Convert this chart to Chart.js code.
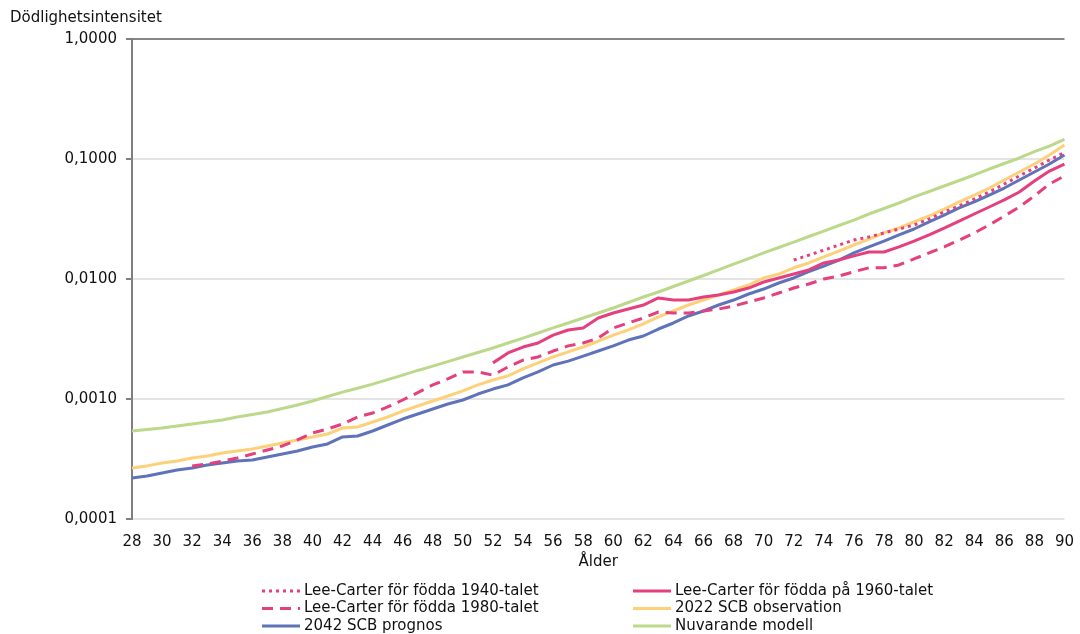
<!DOCTYPE html>
<html lang="sv">
<head>
<meta charset="utf-8">
<title>Dödlighetsintensitet per ålder</title>
<script src="https://cdn.jsdelivr.net/npm/chart.js@4.4.1/dist/chart.umd.min.js"></script>
<style>
  html, body { margin: 0; padding: 0; background: #ffffff; }
  #wrap { width: 1080px; height: 634px; position: relative; }
</style>
</head>
<body>
<div id="wrap"><canvas id="chart" width="1080" height="634"></canvas></div>
<script>
// Ålder 28–90
const ages = [];
for (let a = 28; a <= 90; a++) ages.push(String(a));

// Y-axelns steg (logaritmisk skala)
const yTicks = [0.0001, 0.001, 0.01, 0.1, 1];

// Lee-Carter för födda 1940-talet, från 72 år
const lc1940Start = 72;
const lc1940 = [0.0144, 0.0158, 0.0174, 0.0192, 0.0211, 0.0224, 0.0242, 0.0261, 0.0282, 0.0316,
  0.0362, 0.0406, 0.0464, 0.0531, 0.0619, 0.0722, 0.0841, 0.0981, 0.113];

// Lee-Carter för födda på 1960-talet, från 52 år
const lc1960Start = 52;
const lc1960 = [0.00200, 0.00242, 0.00271, 0.00293, 0.00341, 0.00376, 0.00391, 0.00473, 0.00521, 0.00562,
  0.00607, 0.00695, 0.00668, 0.00668, 0.00708, 0.00736, 0.00779, 0.00841, 0.00944, 0.0102,
  0.0110, 0.0119, 0.0136, 0.0144, 0.0156, 0.0168, 0.0168, 0.0185, 0.0207, 0.0233,
  0.0266, 0.0304, 0.0348, 0.0398, 0.0456, 0.0531, 0.0656, 0.0794, 0.0908];

// Lee-Carter för födda 1980-talet, från 32 år
const lc1980Start = 32;
const lc1980 = [0.000277, 0.000287, 0.000304, 0.000322, 0.000348, 0.000376, 0.000406, 0.000456, 0.000521, 0.000562,
  0.000619, 0.000708, 0.000764, 0.000858, 0.000981, 0.00113, 0.00131, 0.00147, 0.00168, 0.00168,
  0.00158, 0.00185, 0.00211, 0.00224, 0.00251, 0.00277, 0.00293, 0.00322, 0.00391, 0.00430,
  0.00473, 0.00531, 0.00521, 0.00521, 0.00541, 0.00562, 0.00596, 0.00643, 0.00695, 0.00764,
  0.00841, 0.00908, 0.0100, 0.0106, 0.0115, 0.0124, 0.0124, 0.0131, 0.0147, 0.0165,
  0.0185, 0.0211, 0.0242, 0.0282, 0.0335, 0.0398, 0.0492, 0.0619, 0.0722];

// 2022 SCB observation, 28–90 år
const scbObs2022 = [0.000266, 0.000277, 0.000293, 0.000304, 0.000322, 0.000335, 0.000355, 0.000369, 0.000383, 0.000406,
  0.000430, 0.000456, 0.000483, 0.000511, 0.000573, 0.000584, 0.000643, 0.000708, 0.000794, 0.000874,
  0.000962, 0.00106, 0.00117, 0.00131, 0.00144, 0.00156, 0.00178, 0.00200, 0.00224, 0.00247,
  0.00271, 0.00304, 0.00341, 0.00376, 0.00422, 0.00483, 0.00541, 0.00607, 0.00668, 0.00736,
  0.00810, 0.00891, 0.0102, 0.0110, 0.0124, 0.0136, 0.0153, 0.0171, 0.0192, 0.0215,
  0.0242, 0.0266, 0.0299, 0.0335, 0.0383, 0.0439, 0.0501, 0.0573, 0.0668, 0.0779,
  0.0908, 0.108, 0.131];

// 2042 SCB prognos, 28–90 år
const scbProg2042 = [0.000220, 0.000228, 0.000242, 0.000256, 0.000266, 0.000282, 0.000293, 0.000304, 0.000310, 0.000329,
  0.000348, 0.000369, 0.000398, 0.000422, 0.000483, 0.000492, 0.000541, 0.000607, 0.000681, 0.000750,
  0.000825, 0.000908, 0.000981, 0.00110, 0.00121, 0.00131, 0.00150, 0.00168, 0.00192, 0.00207,
  0.00228, 0.00251, 0.00277, 0.00310, 0.00335, 0.00383, 0.00430, 0.00492, 0.00541, 0.00607,
  0.00668, 0.00750, 0.00825, 0.00926, 0.0102, 0.0115, 0.0128, 0.0144, 0.0165, 0.0185,
  0.0207, 0.0233, 0.0261, 0.0299, 0.0341, 0.0391, 0.0439, 0.0501, 0.0573, 0.0668,
  0.0779, 0.0908, 0.108];

// Nuvarande modell, 28–90 år
const nuvarande = [0.000541, 0.000557, 0.000573, 0.000596, 0.000619, 0.000643, 0.000668, 0.000708, 0.000743, 0.000779,
  0.000833, 0.000891, 0.000962, 0.00105, 0.00114, 0.00123, 0.00133, 0.00145, 0.00158, 0.00173,
  0.00188, 0.00205, 0.00224, 0.00244, 0.00266, 0.00293, 0.00322, 0.00355, 0.00391, 0.00430,
  0.00473, 0.00521, 0.00573, 0.00637, 0.00708, 0.00779, 0.00866, 0.00962, 0.0107, 0.0119,
  0.0133, 0.0148, 0.0165, 0.0183, 0.0203, 0.0226, 0.0251, 0.0279, 0.0310, 0.0348,
  0.0387, 0.0430, 0.0483, 0.0536, 0.0596, 0.0662, 0.0736, 0.0825, 0.0917, 0.102,
  0.115, 0.128, 0.146];

// Fyll ut kohortserierna med luckor före första åldern
function fromAge(start, values) {
  return ages.map(a => {
    const i = Number(a) - start;
    return i >= 0 && i < values.length ? values[i] : null;
  });
}

const PINK = '#e5407d';
const YELLOW = '#fdd07a';
const BLUE = '#5f73b8';
const GREEN = '#bcd98b';
const FONT = '"DejaVu Sans", Verdana, sans-serif';

const datasets = [
  { label: 'Lee-Carter för födda 1940-talet', data: fromAge(lc1940Start, lc1940),
    borderColor: PINK, borderDash: [3, 4] },
  { label: 'Lee-Carter för födda på 1960-talet', data: fromAge(lc1960Start, lc1960),
    borderColor: PINK },
  { label: 'Lee-Carter för födda 1980-talet', data: fromAge(lc1980Start, lc1980),
    borderColor: PINK, borderDash: [11, 7] },
  { label: '2022 SCB observation', data: scbObs2022, borderColor: YELLOW },
  { label: '2042 SCB prognos', data: scbProg2042, borderColor: BLUE },
  { label: 'Nuvarande modell', data: nuvarande, borderColor: GREEN }
].map(d => Object.assign({
  borderWidth: 3,
  pointRadius: 0,
  pointHoverRadius: 0,
  tension: 0,
  fill: false,
  spanGaps: false,
  borderCapStyle: 'butt',
  borderJoinStyle: 'round'
}, d));

// Y-axelns rubrik uppe till vänster
const axisTitlePlugin = {
  id: 'axisTitle',
  afterDraw(chart) {
    const ctx = chart.ctx;
    ctx.save();
    ctx.font = '15px ' + FONT;
    ctx.fillStyle = '#111';
    ctx.textAlign = 'left';
    ctx.textBaseline = 'middle';
    ctx.fillText('Dödlighetsintensitet', 10, 18);
    ctx.restore();
  }
};

// Förklaring i två kolumner under diagrammet
const legendPlugin = {
  id: 'twoColumnLegend',
  afterDraw(chart) {
    const ctx = chart.ctx;
    const colX = [262, 633];
    const rowY = [591, 608.5, 626];
    const swatch = 38;
    ctx.save();
    ctx.font = '15px ' + FONT;
    ctx.textBaseline = 'middle';
    ctx.textAlign = 'left';
    chart.data.datasets.forEach((ds, i) => {
      const x = colX[i % 2];
      const y = rowY[Math.floor(i / 2)];
      ctx.beginPath();
      ctx.lineWidth = ds.borderWidth;
      ctx.strokeStyle = ds.borderColor;
      ctx.lineCap = 'butt';
      ctx.setLineDash(ds.borderDash || []);
      ctx.moveTo(x, y);
      ctx.lineTo(x + swatch, y);
      ctx.stroke();
      ctx.setLineDash([]);
      ctx.fillStyle = '#111';
      ctx.fillText(ds.label, x + swatch + 4, y);
    });
    ctx.restore();
  }
};

new Chart(document.getElementById('chart'), {
  type: 'line',
  data: { labels: ages, datasets },
  options: {
    responsive: false,
    animation: false,
    events: [],
    layout: { padding: { top: 39, right: 12, bottom: 60, left: 0 } },
    plugins: {
      legend: { display: false },
      tooltip: { enabled: false },
      title: { display: false }
    },
    scales: {
      x: {
        type: 'category',
        offset: false,
        grid: { display: false },
        border: { display: false },
        ticks: {
          autoSkip: false,
          maxRotation: 0,
          minRotation: 0,
          padding: 6,
          color: '#111',
          font: { family: FONT, size: 15 },
          callback(value) {
            const a = Number(this.getLabelForValue(value));
            return a % 2 === 0 ? String(a) : '';
          }
        },
        title: {
          display: true,
          text: 'Ålder',
          color: '#111',
          font: { family: FONT, size: 15 },
          padding: { top: 0, bottom: 3 }
        },
        afterFit(scale) { scale.height = 55; }
      },
      y: {
        type: 'logarithmic',
        min: 0.0001,
        max: 1,
        afterBuildTicks(scale) {
          scale.ticks = yTicks.map(v => ({ value: v }));
        },
        afterFit(scale) { scale.width = 132; },
        border: { display: true, color: '#7f7f7f', width: 2 },
        grid: {
          color: ctx => (ctx.tick && ctx.tick.value === 1 ? '#858585' : '#e4e4e4'),
          lineWidth: 2,
          tickColor: '#7f7f7f',
          tickLength: 6,
          drawTicks: true
        },
        ticks: {
          padding: 9,
          color: '#111',
          font: { family: FONT, size: 15 },
          callback: v => Number(v).toFixed(4).replace('.', ',')
        }
      }
    }
  },
  plugins: [axisTitlePlugin, legendPlugin]
});
</script>
</body>
</html>
